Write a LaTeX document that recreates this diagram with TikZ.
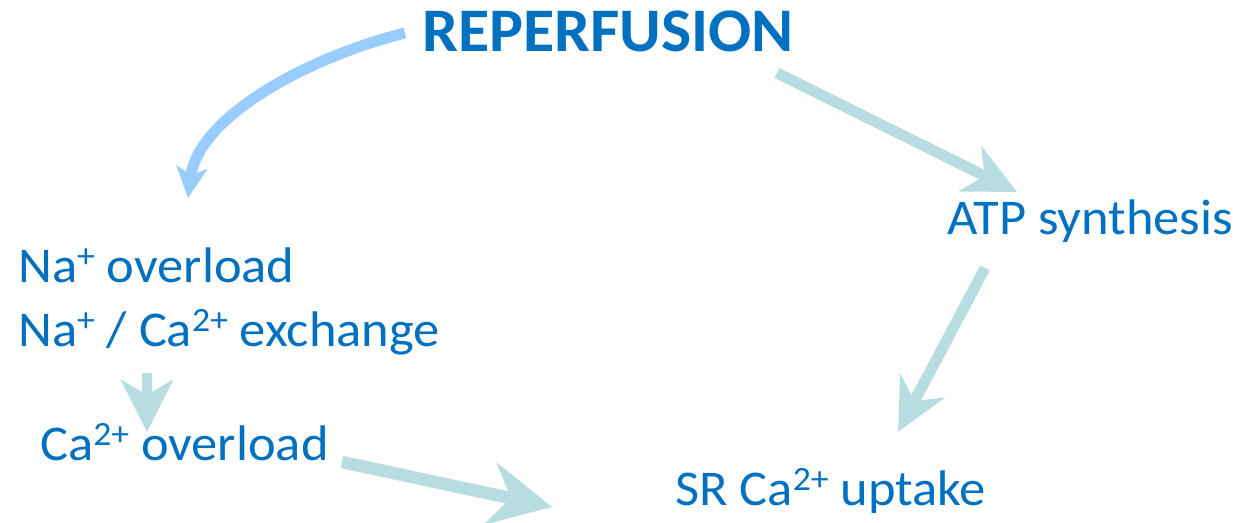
\documentclass[tikz,border=0pt]{standalone}
\usepackage{fontspec}
\setmainfont{Carlito}
\newfontfamily\labelfont{Carlito}[FakeStretch=1.05]
\newfontfamily\titlefont{Carlito}[FakeStretch=1.03]
\usetikzlibrary{arrows.meta}
\definecolor{txtblue}{RGB}{0,112,192}
\definecolor{sky}{RGB}{153,204,255}
\definecolor{teal}{RGB}{183,221,224}
\newcommand\sups[1]{\raisebox{15bp}{\fontsize{34bp}{34bp}\selectfont #1}}
\tikzset{
  label/.style={inner sep=0pt, anchor=base west, text=txtblue,
    font=\labelfont\fontsize{50bp}{60bp}\selectfont},
  title/.style={label, font=\titlefont\fontsize{62bp}{72bp}\selectfont\bfseries},
  flow/.style={draw=teal, line width=11bp,
    -{Stealth[length=52bp, width=50bp, inset=16bp]}},
  bigflow/.style={draw=teal, line width=12.5bp,
    -{Stealth[length=63bp, width=63bp, inset=21bp]}},
  curveflow/.style={draw=sky, line width=11bp,
    -{Stealth[length=31bp, width=31bp, inset=8bp]}},
}
\begin{document}
\begin{tikzpicture}[x=1bp, y=-1bp]
\useasboundingbox (0,0) rectangle (1242,523);

\node[title] (rep) at (422,52) {REPERFUSION};
\node[label] (atp) at (947,235) {ATP synthesis};
\node[label] (na1) at (18,283) {Na\sups{+} overload};
\node[label] (na2) at (18,347) {Na\sups{+} / Ca\sups{2+} exchange};
\node[label] (ca) at (40,460) {Ca\sups{2+} overload};
\node[label] (sr) at (675,505) {SR Ca\sups{2+} uptake};

% curved arrow down to the sodium branch
\draw[curveflow] ([shift={(-17,-19)}]rep.base west)
  .. controls (305,58) and (198,118) .. ([shift={(170,-85)}]na1.base west);

% straight arrows
\draw[flow] ([shift={(355,21)}]rep.base west) -- ([shift={(70,-43)}]atp.base west);
\draw[flow, -{Stealth[length=52bp, width=50bp, inset=17bp]}]
  ([shift={(38,33)}]atp.base west) -- ([shift={(223,-73)}]sr.base west);
\draw[flow, line width=10.5bp, -{Stealth[length=52bp, width=52bp, inset=15bp]}]
  ([shift={(129,26)}]na2.base west) -- ([shift={(107,-28)}]ca.base west);
\draw[bigflow] ([shift={(302,2)}]ca.base west) -- ([shift={(-123,2)}]sr.base west);
\end{tikzpicture}
\end{document}
